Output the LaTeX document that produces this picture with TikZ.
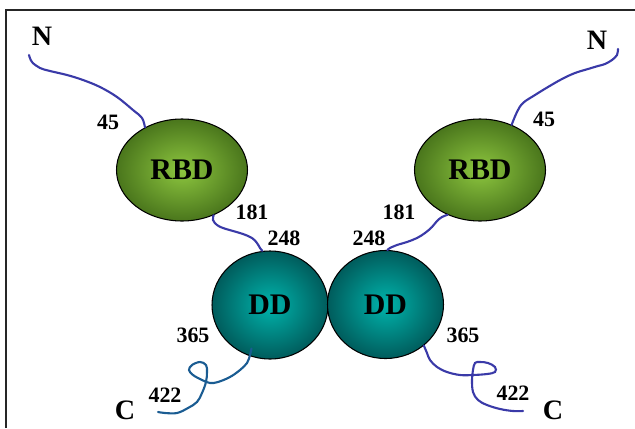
\documentclass[tikz,border=0pt]{standalone}
\usepackage{fontspec}
\setmainfont{Liberation Serif}
\definecolor{rbdlight}{RGB}{141,198,63}
\definecolor{rbddark}{RGB}{74,118,28}
\definecolor{ddlight}{RGB}{0,180,172}
\definecolor{dddark}{RGB}{0,92,92}
\definecolor{tailblue}{RGB}{58,58,168}
\definecolor{ctailblue}{RGB}{26,92,146}
\usetikzlibrary{shapes.geometric,calc}

\begin{document}
\begin{tikzpicture}[
  rbdnode/.style={ellipse,draw=black,line width=0.6pt,inner sep=0pt,
    minimum width=2.62cm,minimum height=2.04cm,
    inner color=rbdlight,outer color=rbddark,
    font=\fontsize{17}{19}\selectfont\bfseries},
  ddnode/.style={ellipse,draw=black,line width=0.6pt,inner sep=0pt,
    minimum width=2.32cm,minimum height=2.16cm,
    inner color=ddlight,outer color=dddark,
    font=\fontsize{17}{19}\selectfont\bfseries},
  tail/.style={line width=1.2pt,tailblue,line cap=round},
  numlabel/.style={inner sep=0pt,font=\fontsize{12.5}{14}\selectfont\bfseries},
  endlabel/.style={inner sep=0pt,font=\fontsize{16}{18}\selectfont\bfseries}
]
  \useasboundingbox (0,0) rectangle (12.7,8.56);

  % Frame
  \draw[line width=0.8pt,black!85] (0.12,0) |- (12.7,8.36);

  % Domains
  \node[rbdnode] (rbdL) at (3.64,5.16) {RBD};
  \node[rbdnode] (rbdR) at (9.60,5.16) {RBD};
  \node[ddnode] (ddL) at (5.40,2.46) {DD};
  \node[ddnode] (ddR) at (7.71,2.47) {DD};

  % Chain termini
  \node[endlabel] (termNL) at (0.84,7.84) {N};
  \node[endlabel] (termNR) at (11.94,7.76) {N};
  \node[endlabel] (termCL) at (2.50,0.36) {C};
  \node[endlabel] (termCR) at (11.06,0.36) {C};
  \coordinate (nLend) at (0.58,7.46);
  \coordinate (nRend) at (12.36,7.58);
  \coordinate (cLend) at (3.16,0.32);
  \coordinate (cRend) at (10.46,0.34);

  % Residue numbers
  \node[numlabel] (r45L) at (2.16,6.12) {45};
  \node[numlabel] (r45R) at (10.88,6.18) {45};
  \node[numlabel] (r181L) at (5.04,4.32) {181};
  \node[numlabel] (r181R) at (7.98,4.32) {181};
  \node[numlabel] (r248L) at (5.68,3.80) {248};
  \node[numlabel] (r248R) at (7.38,3.80) {248};
  \node[numlabel] (r365L) at (3.86,1.86) {365};
  \node[numlabel] (r365R) at (9.26,1.86) {365};
  \node[numlabel] (r422L) at (3.30,0.66) {422};
  \node[numlabel] (r422R) at (10.26,0.70) {422};

  % N-terminal tails
  \draw[tail] plot[smooth,tension=0.6] coordinates {(nLend) (0.64,7.32) (0.80,7.20)
    (1.00,7.14) (1.34,7.06) (1.66,6.96) (2.00,6.82) (2.34,6.62) (2.66,6.36)
    (2.84,6.20) (rbdL.131)};
  \draw[tail] plot[smooth,tension=0.6] coordinates {(nRend) (12.34,7.46) (12.24,7.36)
    (12.10,7.28) (11.96,7.24) (11.76,7.18) (11.50,7.10) (11.24,6.98) (10.96,6.82)
    (10.70,6.66) (10.46,6.50) (10.34,6.32) (rbdR.55)};

  % Linkers RBD -- DD
  \draw[tail] plot[smooth,tension=0.6] coordinates {(rbdL.-55) (4.26,4.16) (4.34,4.06)
    (4.46,4.00) (4.66,3.94) (4.86,3.88) (5.04,3.80) (5.14,3.70) (5.20,3.60) (ddL.98)};
  \draw[tail] plot[smooth,tension=0.6] coordinates {(rbdR.234) (8.84,4.22) (8.74,4.14)
    (8.64,4.02) (8.50,3.90) (8.34,3.80) (8.14,3.72) (7.94,3.66) (7.80,3.60) (ddR.88)};

  % C-terminal tails
  \draw[tail,ctailblue] plot[smooth,tension=0.6] coordinates {($(ddL)!0.86!(ddL.-113)$)
    (5.00,1.46) (4.94,1.30) (4.80,1.16) (4.60,1.02) (4.36,0.92) (4.20,0.90)
    (4.04,0.96) (3.86,1.06) (3.78,1.16) (3.84,1.26) (4.00,1.32) (4.12,1.26)
    (4.14,1.12) (4.12,0.92) (4.04,0.70) (3.94,0.52) (3.76,0.40) (3.54,0.30)
    (3.30,0.30) (cLend)};
  \draw[tail] plot[smooth,tension=0.6] coordinates {(ddR.-47) (8.54,1.50) (8.60,1.36)
    (8.74,1.22) (8.94,1.12) (9.20,1.06) (9.46,1.06) (9.74,1.08) (9.90,1.12)
    (9.90,1.22) (9.76,1.30) (9.60,1.32) (9.50,1.30) (9.46,1.16) (9.44,0.96)
    (9.46,0.72) (9.56,0.56) (9.74,0.46) (10.00,0.38) (10.26,0.34) (cRend)};
\end{tikzpicture}
\end{document}
